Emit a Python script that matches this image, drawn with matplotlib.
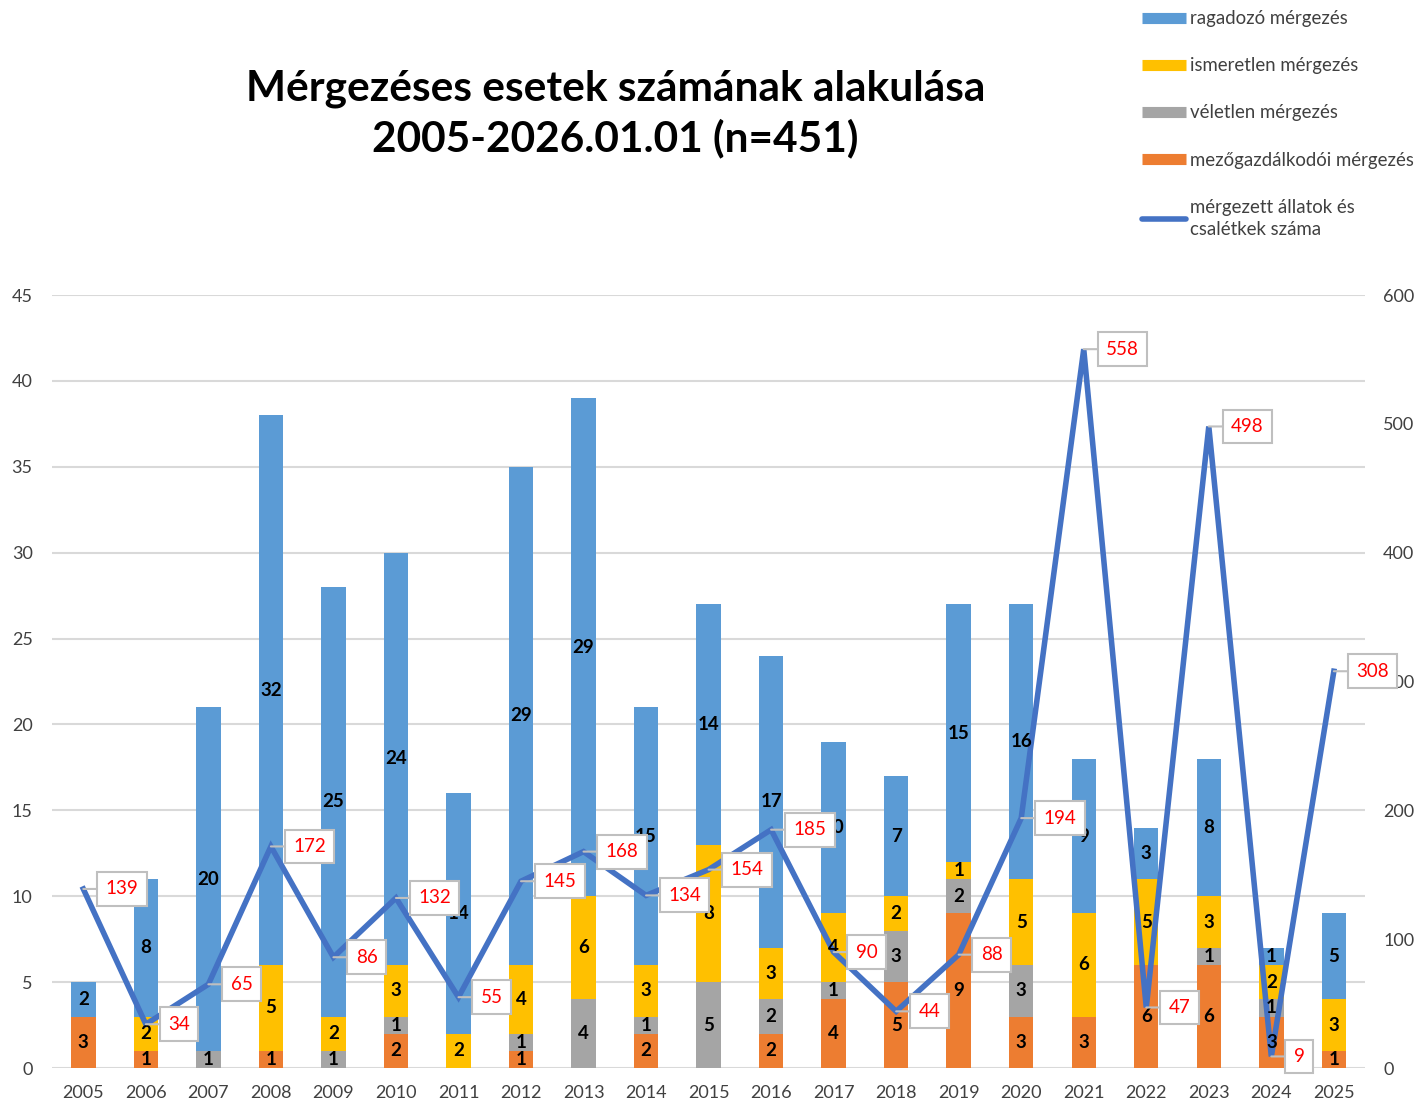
import matplotlib.pyplot as plt
from matplotlib.lines import Line2D
import numpy as np

plt.rcParams['font.family'] = ['Lato', 'DejaVu Sans']

years = [str(y) for y in range(2005, 2026)]
mezogazd = [3, 1, 0, 1, 0, 2, 0, 1, 0, 2, 0, 2, 4, 5, 9, 3, 3, 6, 6, 3, 1]
veletlen = [0, 0, 1, 0, 1, 1, 0, 1, 4, 1, 5, 2, 1, 3, 2, 3, 0, 0, 1, 1, 0]
ismeretlen = [0, 2, 0, 5, 2, 3, 2, 4, 6, 3, 8, 3, 4, 2, 1, 5, 6, 5, 3, 2, 3]
ragadozo = [2, 8, 20, 32, 25, 24, 14, 29, 29, 15, 14, 17, 10, 7, 15, 16, 9, 3, 8, 1, 5]
allatok = [139, 34, 65, 172, 86, 132, 55, 145, 168, 134, 154, 185, 90, 44, 88, 194, 558, 47, 498, 9, 308]

series = [
    ('mezőgazdálkodói mérgezés', mezogazd, '#ED7D31'),
    ('véletlen mérgezés', veletlen, '#A5A5A5'),
    ('ismeretlen mérgezés', ismeretlen, '#FFC000'),
    ('ragadozó mérgezés', ragadozo, '#5B9BD5'),
]
line_color = '#4472C4'

fig = plt.figure(figsize=(14.22, 11.03), dpi=100)
ax = fig.add_axes([0.0366, 0.0317, 0.9234, 0.7008])
ax2 = ax.twinx()

x = np.arange(len(years))
bottom = np.zeros(len(years))
for name, vals, col in series:
    ax.bar(x, vals, 0.39, bottom=bottom, color=col, zorder=2)
    for xi, b, v in zip(x, bottom, vals):
        if v > 0:
            # on ax2 so the numbers sit above the line
            ax2.text(xi, b + v / 2, str(v), transform=ax.transData,
                     ha='center', va='center', fontsize=13.5, fontweight='bold',
                     color='black', zorder=4)
    bottom += np.array(vals)

ax2.plot(x, allatok, color=line_color, lw=4, zorder=3, solid_joinstyle='miter')
for xi, v in zip(x, allatok):
    ax2.annotate(str(v), (xi, v), xytext=(16, 0), textcoords='offset points',
                 ha='left', va='center', fontsize=13.5, color='#FF0000', zorder=5,
                 bbox=dict(boxstyle='square,pad=0.45', fc='white', ec='#BFBFBF', lw=1.5),
                 arrowprops=dict(arrowstyle='-', color='#BFBFBF', lw=1.5,
                                 shrinkA=0, shrinkB=0))

ax.set_xlim(-0.5, len(years) - 0.5)
ax.set_ylim(0, 45)
ax.set_yticks(range(0, 46, 5))
ax2.set_ylim(0, 600)
ax2.set_yticks(range(0, 601, 100))
ax.set_xticks(x)
ax.set_xticklabels(years)
ax.grid(axis='y', color='#D9D9D9', lw=1.5, zorder=0)
ax.set_axisbelow(True)
for a in (ax, ax2):
    for s in a.spines.values():
        s.set_visible(False)
    a.tick_params(length=0, labelsize=13, colors='#404040')
ax.tick_params(axis='y', pad=14)
ax2.tick_params(axis='y', pad=13)
ax.tick_params(axis='x', pad=12)

fig.text(0.433, 0.8965, 'Mérgezéses esetek számának alakulása\n2005-2026.01.01 (n=451)',
         ha='center', va='center', fontsize=30.5, fontweight='bold', linespacing=1.33)

handles = [
    Line2D([], [], color='#5B9BD5', lw=8, solid_capstyle='butt'),
    Line2D([], [], color='#FFC000', lw=8, solid_capstyle='butt'),
    Line2D([], [], color='#A5A5A5', lw=8, solid_capstyle='butt'),
    Line2D([], [], color='#ED7D31', lw=8, solid_capstyle='butt'),
    Line2D([], [], color=line_color, lw=4, solid_capstyle='round'),
]
labels = ['ragadozó mérgezés', 'ismeretlen mérgezés', 'véletlen mérgezés',
          'mezőgazdálkodói mérgezés', 'mérgezett állatok és\ncsalétkek száma']
leg = fig.legend(handles, labels, loc='upper left', bbox_to_anchor=(0.791, 1.006),
                 frameon=False, fontsize=13.4, handlelength=2.4, handletextpad=0.2,
                 labelspacing=1.62, labelcolor='#404040')
for t in leg.get_texts():
    t.set_linespacing(1.35)

fig.savefig('out.png', dpi=100)
